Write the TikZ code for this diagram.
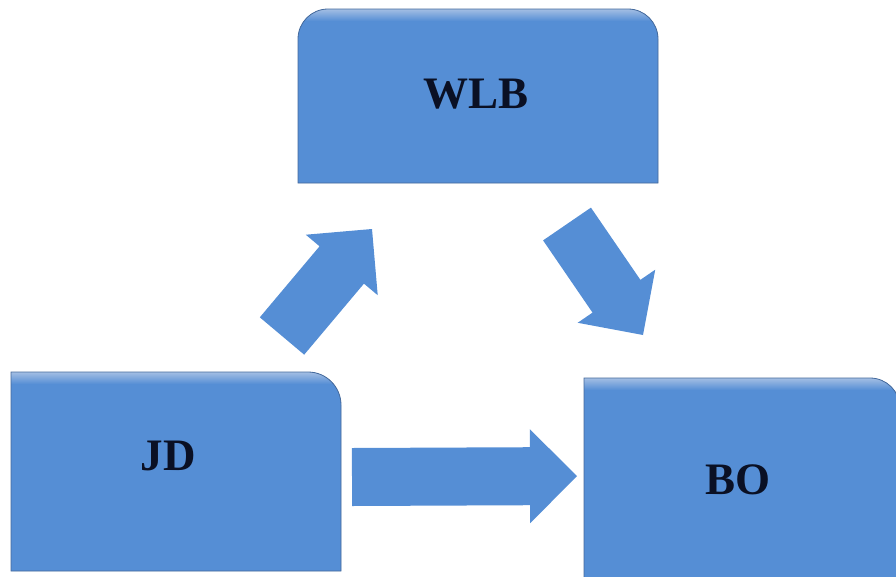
\documentclass[tikz,border=0pt]{standalone}
\usepackage{fontspec}
\setmainfont{Liberation Serif}
\usetikzlibrary{calc}
\definecolor{boxblue}{HTML}{558ED5}
\definecolor{boxedge}{HTML}{44699B}
\definecolor{boxtop}{HTML}{A3BEE3}
\definecolor{txtcol}{HTML}{0A1024}
\definecolor{shadowcol}{HTML}{B8BCC4}
\tikzset{
  boxframe/.style={inner sep=0pt, outer sep=0pt, draw=none},
  boxlabel/.style={anchor=base, inner sep=0pt, text=txtcol, font=\fontsize{45}{50}\selectfont\bfseries},
  boxfill/.style={fill=boxblue},
  boxline/.style={draw=boxedge, line width=0.8pt},
  boxshadow/.style={fill=shadowcol, opacity=0.45},
  arrowfill/.style={fill=boxblue}
}
\newcommand\wlbshape{(wlb.south west) -- ([yshift=-30pt]wlb.north west) arc[start angle=180,end angle=90,radius=30pt] -- ([xshift=-30pt]wlb.north east) arc[start angle=90,end angle=0,radius=30pt] -- (wlb.south east) -- cycle}
\newcommand\jdshape{(jd.south west) -- (jd.north west) -- ([xshift=-33pt]jd.north east) arc[start angle=90,end angle=0,radius=33pt] -- (jd.south east) -- cycle}
\newcommand\boshape{(bo.south west) -- (bo.north west) -- ([xshift=-30pt]bo.north east) arc[start angle=90,end angle=0,radius=30pt] -- (bo.south east) -- cycle}
% block arrow from #1 to #2, head base coordinate #3
\newcommand\blockarrowpath[3]{%
  \coordinate (#3) at ($(#2)!47pt!(#1)$);
  \path[arrowfill] ($(#1)!29pt!90:(#2)$) -- ($(#3)!29pt!90:(#2)$) -- ($(#3)!47pt!90:(#2)$) -- (#2)
    -- ($(#3)!47pt!-90:(#2)$) -- ($(#3)!29pt!-90:(#2)$) -- ($(#1)!29pt!-90:(#2)$) -- cycle;}
\begin{document}
\begin{tikzpicture}[x=1pt,y=1pt]
\useasboundingbox (0,0) rectangle (896,-576);
\clip (0,0) rectangle (896,-576);
% box frames
\node[boxframe, minimum width=360pt, minimum height=174pt] (wlb) at (478,-96) {};
\node[boxframe, minimum width=330pt, minimum height=199pt] (jd) at (176,-471.5) {};
\node[boxframe, minimum width=316pt, minimum height=242pt] (bo) at (742,-499) {};
% shadows
\begin{scope}[shift={(1pt,-4pt)}]
  \path[boxshadow] \wlbshape;
  \path[boxshadow] \jdshape;
  \path[boxshadow] \boshape;
\end{scope}
% fills
\path[boxfill] \wlbshape;
\path[boxfill] \jdshape;
\path[boxfill] \boshape;
% top gradient bands
\begin{scope}
  \clip \wlbshape;
  \shade[top color=boxtop, bottom color=boxblue] (wlb.north west) rectangle ([yshift=-12pt]wlb.north east);
\end{scope}
\begin{scope}
  \clip \jdshape;
  \shade[top color=boxtop, bottom color=boxblue] (jd.north west) rectangle ([yshift=-12pt]jd.north east);
\end{scope}
\begin{scope}
  \clip \boshape;
  \shade[top color=boxtop, bottom color=boxblue] (bo.north west) rectangle ([yshift=-12pt]bo.north east);
\end{scope}
% outlines
\path[boxline] \wlbshape;
\path[boxline] \jdshape;
\path[boxline] \boshape;
% labels
\node[boxlabel] (wlbtext) at (476,-108) {WLB};
\node[boxlabel] (jdtext) at (168,-470) {JD};
\node[boxlabel] (botext) at (738,-494) {BO};
% arrows
\coordinate (a1s) at (282,-336);
\coordinate (a1e) at (372,-229);
\coordinate (a2s) at (567,-224);
\coordinate (a2e) at (643,-335);
\coordinate (a3s) at (352,-477);
\coordinate (a3e) at (577,-476);
\blockarrowpath{a1s}{a1e}{a1h}
\blockarrowpath{a2s}{a2e}{a2h}
\blockarrowpath{a3s}{a3e}{a3h}
\end{tikzpicture}
\end{document}
